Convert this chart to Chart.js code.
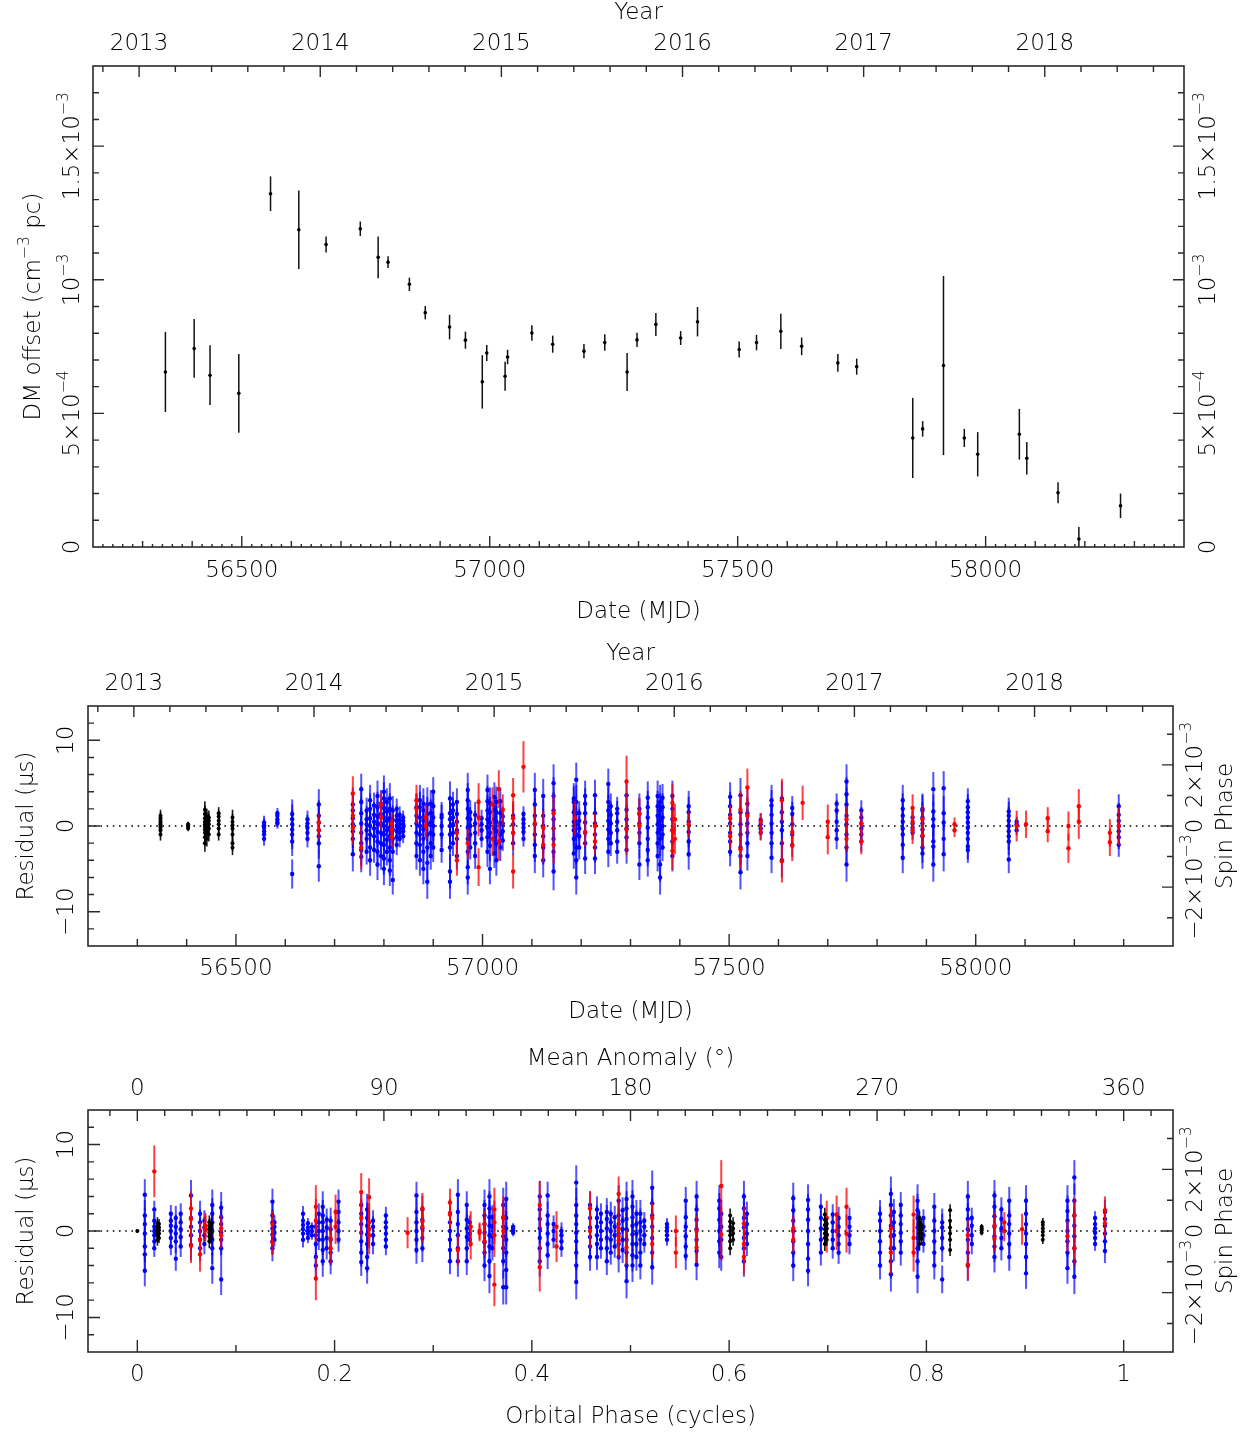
<!DOCTYPE html>
<html><head><meta charset="utf-8">
<script src="https://cdn.jsdelivr.net/npm/chart.js@4.4.1/dist/chart.umd.min.js"></script>
<style>
html,body{margin:0;padding:0;background:#fff;}
#wrap{position:relative;width:1247px;height:1432px;overflow:hidden;}
canvas{position:absolute;left:0;}
</style></head><body>
<div id="wrap">
<canvas id="c1" width="1247" height="630" style="top:0px"></canvas>
<canvas id="c2" width="1247" height="405" style="top:630px"></canvas>
<canvas id="c3" width="1247" height="397" style="top:1035px"></canvas>
</div>
<script>
// ---------------- Panel 1: DM offset (units of 1e-4 cm^-3 pc) ----------------
const dmMjd = [56346,56404,56436,56494,56558,56615,56670,56739,56775,56795,56838,56870,56919,56951,56985,56994,57031,57036,57085,57127,57190,57232,57277,57297,57335,57385,57419,57503,57538,57587,57629,57702,57740,57853,57873,57915,57957,57984,58068,58083,58146,58188,58272];
const dmVal = [6.55,7.43,6.43,5.75,13.22,11.87,11.32,11.91,10.84,10.66,9.83,8.77,8.23,7.74,6.18,7.26,6.39,7.11,8.01,7.59,7.33,7.65,6.55,7.75,8.33,7.82,8.43,7.39,7.65,8.07,7.51,6.89,6.75,4.08,4.42,6.79,4.08,3.47,4.22,3.32,2.03,0.30,1.54];
const dmErr = [1.5,1.1,1.12,1.47,0.65,1.47,0.3,0.27,0.78,0.22,0.25,0.25,0.46,0.32,1.0,0.3,0.54,0.27,0.29,0.32,0.27,0.31,0.71,0.27,0.43,0.26,0.55,0.3,0.29,0.66,0.33,0.33,0.3,1.5,0.29,3.35,0.34,0.83,0.95,0.61,0.39,0.45,0.46];

// ---------------- Panel 2: residuals vs MJD (microseconds) ----------------
const midBlackMjd = [56347,56403,56437,56441,56445,56465,56493];
const midBlackRes = [[-1.0,-0.5,-0.2,0,0.2,0.4,0.6,0.9,1.2],[-0.3,-0.1,0,0.1,0.2],[-2.0,-1.3,-0.8,-0.4,-0.1,0.2,0.5,0.9,1.4,1.9],[-1.5,-0.6,-0.2,0.3,0.7,1.1],[-1.0,-0.3,0.2,0.6,1.0],[-1.0,-0.3,0.2,0.6,1.1,1.5],[-2.5,-2.0,-1.0,-0.3,0.1,0.5,1.0]];
const midBlackErr = [0.7,0.3,1.0,0.9,0.8,0.7,0.9];

const midBlueMjd = [56557,56584,56614,56645,56668,56737,56754,56765,56772,56780,56787,56794,56800,56806,56812,56818,56826,56832,56839,56866,56873,56880,56888,56895,56900,56917,56934,56940,56948,56970,56975,56985,56998,57010,57015,57024,57028,57036,57041,57062,57083,57106,57123,57144,57185,57190,57196,57208,57228,57255,57260,57273,57292,57318,57335,57355,57360,57365,57385,57418,57502,57523,57537,57564,57586,57607,57628,57718,57738,57768,57852,57872,57892,57914,57935,57984,58067,58083,58290];
const midBlueRes = [
[-1.5,-1.0,-0.6,-0.2,0.1,0.4],[0.3,0.5,0.8,1.2,1.5],[-5.6,-1.8,-1.0,-0.4,0.2,0.8,1.4],[-1.5,-0.8,-0.2,0.3,0.8],[-4.7,-2.0,-1.2,-0.5,0.4,1.2,2.5],
[-3.3,-1.5,-0.6,0.2,0.9,1.8,2.5],[-3.6,-2.8,-2.0,-0.8,0.3,1.5,2.8,4.3],[-3.0,-1.5,-0.5,0.2,0.8,1.8],[-4.0,-2.5,-1.0,0,0.9,2.0,3.0],[-2.8,-1.2,-0.3,0.5,1.3,2.4],
[-4.5,-3.0,-1.8,-0.7,0.2,1.1,2.2,3.5],[-3.5,-2.0,-0.8,0.3,1.4,2.6],[-5.0,-3.8,-2.2,-1.0,0,1.0,2.1,3.2,4.0],[-3.0,-1.6,-0.5,0.6,1.7,2.8],[-5.2,-4.0,-2.5,-1.2,-0.2,0.9,2.0,3.2],
[-6.3,-3.0,-1.5,-0.4,0.7,1.8],[-2.2,-1.3,-0.6,0,0.6,1.2,2.0],[-1.5,-0.8,-0.3,0.2,0.7,1.3],[-1.2,-0.6,-0.2,0.2,0.6,1.0],[-3.5,-2.0,-0.8,0.3,1.2,2.2],
[-4.0,-2.2,-1.0,0,1.0,2.2,3.0],[-5.0,-3.0,-1.5,-0.4,0.6,1.8,2.6],[-6.5,-4.3,-2.5,-1.0,0.2,1.4,2.5],[-3.5,-2.0,-0.8,0.4,1.5,2.6],[-2.5,-1.0,0,1.0,2.3,4.0],
[-2.8,-1.0,0,1.0,1.3],[-6.5,-5.3,-2.5,-1.0,0,0.8,1.5,3.2],[-2.0,-0.8,0.2,1.0,1.8,2.5],[-3.5,-1.5,-0.5,0.5,1.4,2.8],[-6.0,-4.8,-3.0,-1.5,-0.2,0.9,2.0,3.0,4.2],
[-2.5,-1.0,0,0.8,1.6],[-3.5,-2.0,-0.8,0.3,1.3],[-1.5,-0.5,0.2,0.9],[-3.0,-1.3,-0.2,0.8,1.8,2.9,4.2],[-5.0,-2.3,-0.8,0.4,1.6,2.7],
[-3.2,-1.5,-0.3,0.8,1.9,3.4],[-4.0,-2.0,-0.6,0.5,1.6,2.8],[-2.5,-1.0,0.3,1.5,2.9],[-1.7,-0.6,0.3,1.1],[-2.0,-0.8,0.2,1.2],
[-1.5,-0.7,-0.2,0.3,0.8,1.4],[-3.5,-2.2,-1.0,0.2,1.2,2.5,4.2],[-4.0,-2.5,-1.2,0,1.2,3.5],[-5.3,-3.0,-1.5,-0.3,0.8,1.8,3.5,5.0],[-3.2,-1.5,-0.5,0.5,1.6,2.8,3.2],
[-6.0,-4.0,-2.5,-1.0,0.2,1.5,2.8,5.4],[-2.5,-1.2,-0.3,0.6,1.5],[-3.8,-2.0,-0.8,0.4,1.5,2.6,3.5],[-3.8,-2.5,-1.0,0.3,1.5,3.6],[-3.0,-1.5,-0.4,0.6,1.8,2.8,4.9],
[-2.0,-0.8,0.3,1.3,2.3],[-3.0,-1.8,-0.5,0.5,1.5,2.0],[-2.8,-1.3,-0.3,0.8,1.9,3.6],[-4.5,-2.0,-0.8,0.3,1.4,2.0],[-4.0,-2.8,-1.5,-0.2,1.0,2.2,3.3],
[-3.5,-2.0,-0.8,0.2,1.2,2.3,3.5],[-6.0,-4.5,-1.5,-0.4,0.6,1.8,2.8],[-2.5,-1.0,0,1.0,2.2,3.3],[-3.5,-1.8,-0.5,0.8,2.0,3.5],[-3.3,-1.8,-0.7,0.5,1.6,2.3],
[-3.0,-1.8,-0.8,0.3,1.3,2.3,3.4],[-5.4,-3.5,-2.5,-1.0,0.2,1.6,3.6],[-3.5,-2.0,-0.8,0.3,1.5,2.6],[-0.8,-0.3,0.2,0.7],[-3.7,-2.0,-0.8,0.3,1.3,2.4,3.0],
[-4.0,-2.0,-0.5,0.5,1.6,3.2],[-2.2,-1.0,0.2,1.4,2.1],[-1.5,-0.5,0.5,1.8,2.6],[-4.5,-2.5,-1.0,0.2,1.2,2.5,3.7,5.2],[-1.8,-1.0,-0.3,0.3,1.0,1.8],
[-3.7,-2.2,-1.0,-0.3,0.5,1.2,2.0,3.0],[-0.8,-0.2,0.3,1.0],[-3.2,-2.5,-1.2,-0.4,0.3,1.0,1.8,2.0],[-4.5,-2.4,-1.8,0,0.8,1.7,4.3],[-3.3,-1.5,0.4,1.5,4.4],
[-2.8,-2.4,-1.5,-0.8,-0.2,0.4,1.0,1.6,2.2,2.9],[-3.9,-1.8,-1.2,-0.6,0,0.6,1.2,1.7],[-0.5,0.2,0.5],[-2.2,-1.3,-0.6,0,0.6,1.3,2.3]];
const midBlueErr = [0.8,0.6,1.7,1.0,1.8,2.0,1.8,1.5,1.8,1.5,1.8,1.6,1.9,1.6,1.8,1.7,1.2,1.0,0.8,1.6,1.8,1.8,2.0,1.6,1.7,1.5,2.0,1.5,1.6,2.0,1.4,1.5,1.0,1.8,1.8,1.7,1.8,1.6,1.2,1.4,0.9,2.0,2.0,2.2,1.8,2.0,1.4,1.8,1.8,1.8,1.5,1.4,1.6,1.8,1.9,1.8,2.0,1.6,1.8,1.8,1.7,2.0,1.7,0.8,1.8,2.0,1.4,1.2,2.0,1.2,1.8,0.8,1.8,2.0,2.0,1.5,1.6,0.6,1.4];

const midRedMjd = [56668,56737,56754,56794,56816,56866,56885,56948,56970,56992,57020,57033,57041,57062,57083,57106,57123,57144,57187,57208,57228,57292,57318,57385,57390,57418,57502,57523,57537,57564,57607,57628,57649,57700,57738,57768,57872,57892,57957,58083,58102,58146,58188,58209,58272,58290];
const midRedRes = [[0.4,-0.5],[3.8,1.2,-0.2],[-2.5],[2.5,1.0],[0.3,-0.4,-1.3],[3.0,2.0],[1.0,0.0],[-0.8,-4.0],[-2.0],[2.8,1.0,-4.8],[2.5,-1.5],[4.3,-1.8],[1.9],[3.6,0.9,-0.8,-5.3],[6.9],[0.3],[-0.2,-2.2],[1.5,-2.2],[0.9],[-0.7],[0,-1.8],[5.2,-0.4],[1.5,0],[2.7,-0.5,-2.9],[0.8,-1.5],[0.2],[0.9,-1.2],[1.9,-2.7],[4.5,1.2],[0.5,-0.7],[3.0,-4.1],[-0.7,-2.3],[2.7],[0.5,-1.3],[0.8,-1.5],[0.3,-1.8],[2.1,0.5,-0.5],[0.8,-1.1],[0.2,-0.5],[0],[0.2],[0.9,-0.6],[0,-2.6],[2.3,0.5],[-0.8,-1.9],[0]];
const midRedErr = [1.0,2.0,2.5,1.4,1.2,1.8,1.5,1.8,1.8,2.2,2.0,2.2,1.8,2.0,3.0,2.0,2.0,2.2,2.0,1.8,1.5,3.0,1.8,2.2,1.8,1.5,1.5,2.2,2.2,1.0,2.5,1.8,2.0,2.0,1.5,1.5,1.6,1.5,0.8,1.8,1.6,1.3,1.7,2.0,1.6,2.2];

// ---------------- Panel 3: residuals vs orbital phase ----------------
const botBlackPh = [0.000,0.0204,0.022,0.073,0.075,0.601,0.604,0.697,0.699,0.793,0.795,0.824,0.856,0.918];
const botBlackRes = [[0],[-1.0,-0.5,-0.2,0.2,0.5,0.9],[-0.8,-0.3,0.1,0.4,0.8],[-1.2,-0.6,-0.2,0.2,0.6,1.0],[-0.8,-0.2,0.3,0.8],[-2.0,-1.2,-0.5,0,0.5,1.1,1.8],[-1.0,-0.3,0.3,0.9],[-1.5,-0.8,-0.3,0.2,0.7,1.3,1.9],[-1.0,-0.4,0.3,0.8],[-1.5,-0.8,-0.3,0.2,0.6,1.0,1.5],[-0.9,-0.3,0.2,0.7],[-2.2,-1.0,-0.3,0.4,1.2,2.4],[-0.2,0.1,0.3,0.5],[-1.0,-0.5,-0.1,0.3,0.7,1.0]];
const botBlackErr = [0.2,0.7,0.6,0.8,0.7,0.8,0.7,0.8,0.7,0.8,0.7,0.7,0.3,0.5];

const botBluePh = [0.0076,0.0172,0.034,0.039,0.044,0.0544,0.0636,0.068,0.076,0.085,0.137,0.139,0.168,0.173,0.177,0.181,0.184,0.188,0.192,0.196,0.204,0.227,0.233,0.239,0.252,0.283,0.289,0.317,0.325,0.334,0.337,0.352,0.357,0.360,0.371,0.374,0.381,0.408,0.416,0.422,0.430,0.445,0.459,0.466,0.470,0.476,0.480,0.484,0.488,0.492,0.496,0.502,0.506,0.510,0.514,0.522,0.537,0.556,0.567,0.590,0.592,0.615,0.618,0.665,0.680,0.693,0.705,0.711,0.722,0.753,0.764,0.767,0.774,0.791,0.797,0.808,0.816,0.842,0.846,0.869,0.876,0.884,0.901,0.943,0.950,0.971,0.981];
const botBlueRes = [
[-4.6,-2.7,-1.8,-0.3,0.8,1.8,4.2],[-2.0,-1.2,-0.5,0,0.5,1.2,2.5],[-1.8,-0.8,0,0.6,1.2,2.0],[-3.2,-1.2,-0.3,0.5,1.5],[-1.8,-0.7,0.2,1.0,2.0],
[-1.6,-0.5,0.5,1.5,4.1],[-2.0,-1.0,0,1.0,2.0],[-1.5,-0.5,0.4,1.2],[-4.3,-2.0,-1.0,0,1.0,2.0,3.0],[-5.6,-2.0,-1.0,-0.2,0.8,1.6,2.7],
[-2.0,-1.2,-0.4,0.3,1.0,1.8,3.4],[-1.0,-0.2,0.5,1.0],[-1.0,-0.3,0.2,0.7,1.2,2.0],[-0.8,-0.3,0,0.4,0.9],[-0.5,0,0.5],
[-4.0,-3.0,-1.5,-0.5,0.5],[-1.0,0,1.0,2.0],[-3.5,-2.2,-1.0,0,1.0,1.8,2.8],[-2.0,-0.8,0.4,1.3],[-3.5,-2.5,-1.0,0.2,1.2],
[-1.0,0,1.0,2.2,3.4],[-3.6,-2.5,-1.2,-0.2,0.8,2.0,3.0],[-4.3,-3.0,-1.5,-0.4,0.6,1.5,2.5],[-1.5,-0.5,0.5,1.2],[-1.8,-1.0,-0.3,0.4,1.0,1.8],
[-2.2,-1.0,0,1.0,2.2,4.1],[-2.0,-0.8,0.3,1.3,2.5],[-3.5,-2.2,-1.0,0,1.0],[-3.5,-2.0,-0.5,0.8,2.2,4.2],[-3.5,-2.0,-0.7,0.3,1.3,3.0],
[-1.0,-0.3,0.4,1.0],[-4.0,-2.5,-1.3,-0.2,0.8,1.8,3.0],[-5.2,-3.5,-1.8,-0.5,0.6,1.6,2.6,4.0],[-2.0,-0.6,0.5,1.6],[-6.5,-3.5,-2.0,-0.6,0.5,1.6,3.0],
[-6.5,-4.5,-2.5,-1.0,0.3,1.5,3.7],[-0.2,0.1,0.3,0.5],[-3.5,-2.0,-0.8,0.3,1.4,2.5,4.0],[-2.8,-1.5,-0.3,0.8,1.8,4.1],[-1.0,0,0.8],
[-2.0,-1.2,-0.5,0],[-5.9,-4.0,-2.5,-1.2,-0.2,0.8,1.8,3.0,5.6],[-3.0,-1.8,-0.7,0.4,1.5,3.0],[-3.0,-1.5,-0.5,0.5,1.5,2.5],[-2.0,-1.0,0,1.0,2.0],
[-3.5,-2.0,-0.8,0.3,1.4,2.2],[-2.5,-1.0,0,1.0,2.0],[-1.8,-0.5,0.5,1.6],[-3.0,-1.5,-0.3,0.8,1.8,3.5],[-2.2,-1.0,0.2,1.2,2.4],
[-5.8,-4.0,-2.5,-1.0,0.2,1.4,2.6,3.7],[-4.0,-2.8,-1.5,-0.4,0.6,1.6,2.8,4.0],[-3.0,-1.5,-0.3,0.8,2.0],[-4.0,-2.5,-1.0,0,1.0,2.0],[-1.5,-0.5,0.5,1.2],
[-4.2,-2.5,-0.8,0.5,1.8,3.2,5.0],[-1.0,-0.5,0,0.4,0.8],[-2.9,-1.8,-0.6,0.5,1.6,3.5],[-3.9,-2.3,-1.0,0.2,1.3,2.5,4.0],[-2.5,-1.2,0,1.3,2.6,3.5],
[-3.0,-1.0,0.5,2.0],[-3.5,-2.0,-0.8,0.4,1.5,2.6,4.0],[-1.5,-0.3,0.8,2.0],[-4.0,-2.5,-1.2,0,1.2,2.4,3.8],[-4.6,-3.2,-1.5,0,1.3,2.5,3.6],
[-2.5,-1.0,0.3,1.5,2.8],[-2.0,-1.0,0,1.0,1.9],[-2.5,-1.5,-0.5,0.5,1.5],[-1.5,-0.5,0.5,1.5],[-4.0,-2.5,-1.2,0,1.2,2.0],
[-5.0,-3.5,-2.0,-0.6,0.6,1.8,3.0,4.3],[-2.0,-0.5,1.0,2.2],[-2.5,-1.2,-0.2,0.8,1.8,3.0],[-5.3,-3.5,-2.0,-0.8,0.4,1.5,2.4,3.5],[-1.5,-0.5,0.5,1.5],
[-4.0,-2.5,-1.2,0,1.2,2.8],[-5.6,-2.0,-0.8,0.4,1.0],[-4.0,-2.5,-1.0,0.2,1.4,2.5,4.0],[-1.5,-0.5,0.6,1.5],[-3.0,-1.8,-0.6,0.5,1.7,2.8,4.1],
[-2.0,-0.8,0.3,1.4,2.5],[-3.0,-1.5,-0.3,0.8,1.8,3.5],[-4.9,-3.0,-1.5,-0.3,0.8,2.0,3.5],[-4.3,-2.5,-1.2,0,1.2,2.3,3.5],[-5.3,-3.5,-2.0,-0.6,0.6,1.8,3.5,6.2],
[-1.5,-0.8,-0.2,0.3,0.8,1.5],[-2.3,-1.2,-0.3,0.6,1.4,2.2]];
const botBlueErr = [1.8,1.0,1.0,1.4,1.2,1.8,1.5,1.2,1.8,1.8,1.5,0.8,0.9,0.6,0.5,1.5,1.2,1.8,1.3,1.5,1.4,1.6,1.8,1.2,1.0,1.6,1.6,1.5,1.8,1.6,0.8,1.8,2.0,1.4,2.0,2.0,0.4,1.8,1.6,1.0,1.0,2.0,1.6,1.5,1.2,1.6,1.4,1.3,1.8,1.5,2.0,1.9,1.6,1.6,1.0,2.0,0.7,1.6,1.8,1.8,1.6,1.8,1.4,1.8,1.8,1.5,1.2,1.3,1.2,1.6,2.0,1.5,1.5,1.9,1.0,1.6,1.6,1.8,1.2,1.8,1.4,1.6,1.8,1.8,2.0,0.8,1.4];

const botRedPh = [0.0172,0.0544,0.0636,0.069,0.085,0.137,0.181,0.196,0.201,0.227,0.235,0.274,0.289,0.317,0.325,0.338,0.347,0.352,0.362,0.371,0.408,0.425,0.459,0.488,0.496,0.522,0.546,0.567,0.592,0.615,0.665,0.699,0.709,0.719,0.764,0.787,0.842,0.869,0.879,0.897,0.943,0.950,0.981];
const botRedRes = [[6.9],[2.6,1.4,-1.7],[-1.0,-2.7],[0.6,0.3],[0.3,-0.5],[0.8,-1.3],[2.8,1.2,-5.5],[-0.9,-2.0],[2.2,0.5],[4.5,1.5],[3.9,1.0,0.2,-0.5],[-0.2],[2.6,1.1,0.5],[3.3,2.1,1.9],[-2.2],[0.5,-1.5],[0,-0.2],[0.8,-1.2],[2.5,1.0,-0.5,-6.2],[1.5,0.0],[3.0,-4.2],[0.5,-1.8],[2.6,0],[4.3,0.3,-0.6,-1.1],[-1.9],[1.5,-1.5],[0,-2.5],[0,-1.9],[5.2,-0.4],[0.9,-1.5,-3.0],[0.3,-1.0],[1.5,-0.5],[1.9,0],[2.8,-0.3],[0.3,-2.5],[1.9,-0.8,-2.5],[-0.5,-3.9],[0.6,-0.9],[1.0,0],[0.2],[-0.6],[1.8,-2.0],[2.4,0.9]];
const botRedErr = [3.0,2.0,2.0,1.5,1.5,1.5,2.5,1.8,2.0,2.2,2.2,1.8,1.8,1.6,1.8,1.8,1.0,1.6,2.5,2.5,2.8,1.8,2.0,2.0,2.0,1.8,1.8,1.8,3.0,2.0,1.5,2.0,2.2,2.2,2.5,2.2,1.8,1.5,1.2,1.8,1.8,2.0,1.6];

// ---------------- Tick labels ----------------
const yearValues = [2013,2014,2015,2016,2017,2018];
const yearLabels = ['2013','2014','2015','2016','2017','2018'];
const mjdTickValues = [56500,57000,57500,58000];
const mjdTickLabels = ['56500','57000','57500','58000'];
const dmTickValues = [0,5,10,15];
const dmTickLabels = ['0','5×10^{−4}','10^{−3}','1.5×10^{−3}'];
const resTickValues = [-10,0,10];
const resTickLabels = ['−10','0','10'];
const spinTickValues = [-2,0,2];
const spinTickLabels = ['−2×10^{−3}','0','2×10^{−3}'];
const phaseTickValues = [0,0.2,0.4,0.6,0.8,1];
const phaseTickLabels = ['0','0.2','0.4','0.6','0.8','1'];
const anomTickValues = [0,90,180,270,360];
const anomTickLabels = ['0','90','180','270','360'];

// ---------------- helpers ----------------
const FONT = '"DejaVu Sans", "Liberation Sans", sans-serif';
const FW = '200';
const FS = 23;
const INK = '#000';
const MJD_YEAR0 = 56293, DAYS_YEAR = 365.25; // 2013.0 = MJD 56293
const mjdToYear = m => 2013 + (m - MJD_YEAR0) / DAYS_YEAR;
const SPIN_US = 3.566; // microseconds per 1e-3 spin phase

function buildPoints(xs, res, errs) {
  const out = [];
  xs.forEach((x, i) => res[i].forEach(r => out.push({x: x, y: r, e: errs[i]})));
  return out;
}
function parseRich(str) {
  const segs = []; const re = /\^\{([^}]*)\}/g; let last = 0, m;
  while ((m = re.exec(str))) {
    if (m.index > last) segs.push({t: str.slice(last, m.index), sup: false});
    segs.push({t: m[1], sup: true}); last = re.lastIndex;
  }
  if (last < str.length) segs.push({t: str.slice(last), sup: false});
  return segs;
}
function fontFor(sup) { return FW + ' ' + (sup ? FS * 0.68 : FS) + 'px ' + FONT; }
function drawRich(ctx, str, x, y, rotate) {
  const segs = parseRich(str); let w = 0;
  for (const s of segs) { ctx.font = fontFor(s.sup); s.w = ctx.measureText(s.t).width; w += s.w; }
  ctx.save(); ctx.translate(x, y); if (rotate) ctx.rotate(-Math.PI / 2);
  ctx.fillStyle = INK; ctx.textBaseline = 'alphabetic'; ctx.textAlign = 'left';
  let cx = -w / 2;
  for (const s of segs) { ctx.font = fontFor(s.sup); ctx.fillText(s.t, cx, s.sup ? -FS * 0.47 : 0); cx += s.w; }
  ctx.restore();
}
function tickList(from, to, step, majorEvery, majorLen, minorLen, tinyEvery, tinyLen) {
  const out = []; const n = Math.round((to - from) / step);
  for (let i = 0; i <= n; i++) {
    const v = from + i * step; let len = minorLen;
    const k = Math.round(v / step);
    if (k % majorEvery === 0) len = majorLen;
    else if (tinyEvery && k % tinyEvery !== 0) len = tinyLen;
    out.push([v, len]);
  }
  return out;
}

const errorBars = {
  id: 'errorBars',
  beforeDatasetDraw(chart, args) {
    const ds = chart.data.datasets[args.index];
    if (!ds.errColor) return;
    const ctx = chart.ctx, a = chart.chartArea, xs = chart.scales.x, ys = chart.scales.y;
    ctx.save();
    ctx.beginPath(); ctx.rect(a.left, a.top, a.right - a.left, a.bottom - a.top); ctx.clip();
    ctx.strokeStyle = ds.errColor; ctx.lineWidth = ds.errWidth;
    for (const p of ds.data) {
      const px = xs.getPixelForValue(p.x);
      ctx.beginPath();
      ctx.moveTo(px, ys.getPixelForValue(p.y - p.e));
      ctx.lineTo(px, ys.getPixelForValue(p.y + p.e));
      ctx.stroke();
    }
    ctx.restore();
  }
};

const framePlugin = {
  id: 'frame',
  beforeDatasetsDraw(chart, args, o) {
    if (!o.zeroLine) return;
    const ctx = chart.ctx, a = chart.chartArea, y0 = chart.scales.y.getPixelForValue(0);
    ctx.save(); ctx.strokeStyle = '#000'; ctx.lineWidth = 1.4; ctx.setLineDash([1.6, 4.6]);
    ctx.beginPath(); ctx.moveTo(a.left, y0); ctx.lineTo(a.right, y0); ctx.stroke(); ctx.restore();
  },
  afterDraw(chart, args, o) {
    const ctx = chart.ctx, a = chart.chartArea;
    ctx.save();
    ctx.strokeStyle = '#2a2a2a'; ctx.lineWidth = 1.6;
    ctx.strokeRect(a.left, a.top, a.right - a.left, a.bottom - a.top);
    for (const side of ['bottom', 'top', 'left', 'right']) {
      const s = o[side]; if (!s) continue;
      const sc = chart.scales[s.scale];
      ctx.beginPath(); ctx.lineWidth = 1.4;
      for (const t of s.ticks) {
        const p = sc.getPixelForValue(t[0]);
        if (side === 'bottom' || side === 'top') { if (p <= a.left + 1 || p >= a.right - 1) continue; }
        else { if (p <= a.top + 1 || p >= a.bottom - 1) continue; }
        if (side === 'bottom') { ctx.moveTo(p, a.bottom); ctx.lineTo(p, a.bottom - t[1]); }
        if (side === 'top') { ctx.moveTo(p, a.top); ctx.lineTo(p, a.top + t[1]); }
        if (side === 'left') { ctx.moveTo(a.left, p); ctx.lineTo(a.left + t[1], p); }
        if (side === 'right') { ctx.moveTo(a.right, p); ctx.lineTo(a.right - t[1], p); }
      }
      ctx.stroke();
      s.values.forEach((v, i) => {
        const p = sc.getPixelForValue(v);
        if (side === 'bottom' || side === 'top') drawRich(ctx, s.labels[i], p, s.base, false);
        else drawRich(ctx, s.labels[i], s.base, p, true);
      });
    }
    for (const t of o.titles) {
      if (t.rot) drawRich(ctx, t.text, t.x, (a.top + a.bottom) / 2, true);
      else drawRich(ctx, t.text, (a.left + a.right) / 2, t.y, false);
    }
    ctx.restore();
  }
};

function seriesSet(blackX, blackR, blackE, blueX, blueR, blueE, redX, redR, redE) {
  return [
    {data: buildPoints(blackX, blackR, blackE), pointRadius: 2, pointBackgroundColor: '#000', pointBorderWidth: 0, errColor: 'rgba(0,0,0,0.9)', errWidth: 1.6},
    {data: buildPoints(redX, redR, redE), pointRadius: 2.2, pointBackgroundColor: '#ff0000', pointBorderWidth: 0, errColor: 'rgba(255,0,0,0.75)', errWidth: 2},
    {data: buildPoints(blueX, blueR, blueE), pointRadius: 2.2, pointBackgroundColor: '#0000ff', pointBorderWidth: 0, errColor: 'rgba(0,0,255,0.68)', errWidth: 2}
  ];
}
function baseOptions(padding, scales, frame) {
  return {
    responsive: false, animation: false, events: [],
    layout: {padding: padding},
    plugins: {legend: {display: false}, tooltip: {enabled: false}, frame: frame},
    scales: scales
  };
}

const yearMin = mjdToYear(56200), yearMax = mjdToYear(58400);
const yearTicks = tickList(2012.8, 2018.6, 0.2, 5, 11, 6);
const resTicks = tickList(-12, 12, 2, 5, 12, 6);
const spinTicks = tickList(-3, 3, 1, 2, 11, 6);

// ---------------- Chart 1 ----------------
new Chart(document.getElementById('c1'), {
  type: 'scatter',
  data: {datasets: [{
    data: dmMjd.map((m, i) => ({x: m, y: dmVal[i], e: dmErr[i]})),
    pointRadius: 1.8, pointBackgroundColor: '#000', pointBorderWidth: 0, errColor: '#111', errWidth: 1.5
  }]},
  options: baseOptions({left: 93, right: 63, top: 66, bottom: 83}, {
    x: {type: 'linear', min: 56200, max: 58400, display: false},
    y: {type: 'linear', min: 0, max: 18, display: false},
    x2: {type: 'linear', axis: 'x', position: 'top', min: yearMin, max: yearMax, display: false}
  }, {
    bottom: {scale: 'x', ticks: tickList(56200, 58400, 20, 25, 11, 6, 5, 3), values: mjdTickValues, labels: mjdTickLabels, base: 577},
    top: {scale: 'x2', ticks: yearTicks, values: yearValues, labels: yearLabels, base: 50},
    left: {scale: 'y', ticks: tickList(0, 18, 1, 5, 11, 6), values: dmTickValues, labels: dmTickLabels, base: 79},
    right: {scale: 'y', ticks: tickList(0, 18, 1, 5, 11, 6), values: dmTickValues, labels: dmTickLabels, base: 1215},
    titles: [{text: 'Year', y: 19}, {text: 'Date (MJD)', y: 618}, {text: 'DM offset (cm^{−3} pc)', x: 40, rot: true}]
  }),
  plugins: [errorBars, framePlugin]
});

// ---------------- Chart 2 ----------------
new Chart(document.getElementById('c2'), {
  type: 'scatter',
  data: {datasets: seriesSet(midBlackMjd, midBlackRes, midBlackErr, midBlueMjd, midBlueRes, midBlueErr, midRedMjd, midRedRes, midRedErr)},
  options: baseOptions({left: 88, right: 74, top: 76, bottom: 89}, {
    x: {type: 'linear', min: 56200, max: 58400, display: false},
    y: {type: 'linear', min: -14, max: 14, display: false},
    x2: {type: 'linear', axis: 'x', position: 'top', min: yearMin, max: yearMax, display: false},
    y2: {type: 'linear', axis: 'y', position: 'right', min: -14 / SPIN_US, max: 14 / SPIN_US, display: false}
  }, {
    zeroLine: true,
    bottom: {scale: 'x', ticks: tickList(56200, 58400, 100, 5, 12, 7), values: mjdTickValues, labels: mjdTickLabels, base: 345},
    top: {scale: 'x2', ticks: yearTicks, values: yearValues, labels: yearLabels, base: 60},
    left: {scale: 'y', ticks: resTicks, values: resTickValues, labels: resTickLabels, base: 73},
    right: {scale: 'y2', ticks: spinTicks, values: spinTickValues, labels: spinTickLabels, base: 1202},
    titles: [{text: 'Year', y: 30}, {text: 'Date (MJD)', y: 388}, {text: 'Residual (μs)', x: 33, rot: true}, {text: 'Spin Phase', x: 1232, rot: true}]
  }),
  plugins: [errorBars, framePlugin]
});

// ---------------- Chart 3 ----------------
new Chart(document.getElementById('c3'), {
  type: 'scatter',
  data: {datasets: seriesSet(botBlackPh, botBlackRes, botBlackErr, botBluePh, botBlueRes, botBlueErr, botRedPh, botRedRes, botRedErr)},
  options: baseOptions({left: 88, right: 74, top: 75, bottom: 80}, {
    x: {type: 'linear', min: -0.05, max: 1.05, display: false},
    y: {type: 'linear', min: -14, max: 14, display: false},
    x2: {type: 'linear', axis: 'x', position: 'top', min: -18, max: 378, display: false},
    y2: {type: 'linear', axis: 'y', position: 'right', min: -14 / SPIN_US, max: 14 / SPIN_US, display: false}
  }, {
    zeroLine: true,
    bottom: {scale: 'x', ticks: tickList(0, 1, 0.1, 2, 12, 7), values: phaseTickValues, labels: phaseTickLabels, base: 346},
    top: {scale: 'x2', ticks: tickList(-10, 370, 10, 9, 11, 6), values: anomTickValues, labels: anomTickLabels, base: 60},
    left: {scale: 'y', ticks: resTicks, values: resTickValues, labels: resTickLabels, base: 73},
    right: {scale: 'y2', ticks: spinTicks, values: spinTickValues, labels: spinTickLabels, base: 1202},
    titles: [{text: 'Mean Anomaly (°)', y: 30}, {text: 'Orbital Phase (cycles)', y: 388}, {text: 'Residual (μs)', x: 33, rot: true}, {text: 'Spin Phase', x: 1232, rot: true}]
  }),
  plugins: [errorBars, framePlugin]
});
</script>
</body></html>
